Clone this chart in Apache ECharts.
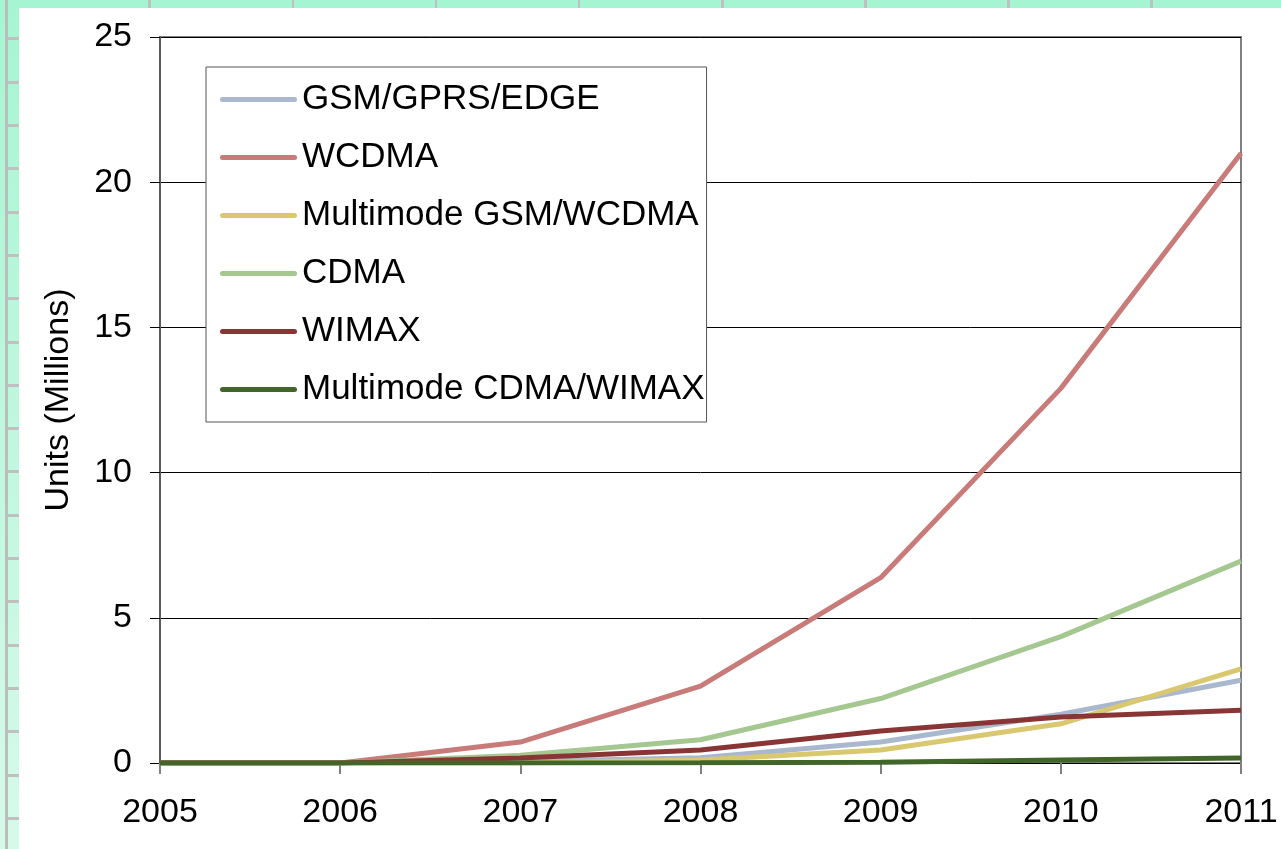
<!DOCTYPE html>
<html>
<head>
<meta charset="utf-8">
<script src="https://cdn.jsdelivr.net/npm/echarts@6/dist/echarts.min.js"></script>
<style>
  html, body { margin: 0; padding: 0; }
  body { width: 1281px; height: 849px; position: relative; overflow: hidden; background: #fff; }
  .strip-left {
    position: absolute; left: 0; top: 0; width: 19px; height: 849px;
    background: linear-gradient(to right, transparent 5px, #bdbdbd 5px, #bdbdbd 8px, transparent 8px),
                linear-gradient(#a6f5d2, #d6faea);
  }
  .strip-ticks {
    position: absolute; left: 8px; top: 0; width: 11px; height: 849px;
    background: repeating-linear-gradient(to bottom, transparent 0, transparent 37.5px, #c0c0c0 37.5px, #c0c0c0 40.5px, transparent 40.5px, transparent 43.3px);
  }
  .strip-top {
    position: absolute; left: 8px; top: 0; width: 1273px; height: 8px;
    background: repeating-linear-gradient(to right, #a6f5d2 0, #a6f5d2 140.5px, #c0c0c0 140.5px, #c0c0c0 143.1px);
  }
  .sheet { position: absolute; left: 19px; top: 8px; right: 0; bottom: 0; background: #fff; }
  #chart { position: absolute; left: 0; top: 0; width: 1281px; height: 849px; }
</style>
</head>
<body>
<div class="strip-left"></div>
<div class="strip-ticks"></div>
<div class="strip-top"></div>
<div class="sheet"></div>
<div id="chart"></div>
<script>
// data (millions of units)
var years = ['2005', '2006', '2007', '2008', '2009', '2010', '2011'];
var seriesNames = ['GSM/GPRS/EDGE', 'WCDMA', 'Multimode GSM/WCDMA', 'CDMA', 'WIMAX', 'Multimode CDMA/WIMAX'];
var gsm = [0, 0, 0.05, 0.18, 0.72, 1.68, 2.85];
var wcdma = [0, 0, 0.72, 2.65, 6.38, 12.9, 21.0];
var multiGsmWcdma = [0, 0, 0, 0.1, 0.45, 1.35, 3.24];
var cdma = [0, 0, 0.27, 0.8, 2.22, 4.35, 6.95];
var wimax = [0, 0, 0.17, 0.45, 1.1, 1.58, 1.82];
var multiCdmaWimax = [0, 0, 0, 0.01, 0.03, 0.1, 0.17];
var yTicks = { min: 0, max: 25, step: 5 };

var colors = ['#a9b8cf', '#c87b78', '#d9c86f', '#a5c790', '#8a3535', '#426629'];
var values = [gsm, wcdma, multiGsmWcdma, cdma, wimax, multiCdmaWimax];
var font = "'Liberation Sans', Arial, sans-serif";

var myChart = echarts.init(document.getElementById('chart'));

var series = [];
for (var i = 0; i < seriesNames.length; i++) {
  series.push({
    name: seriesNames[i],
    type: 'line',
    symbol: 'none',
    smooth: false,
    color: colors[i],
    lineStyle: { color: colors[i], width: 5 },
    data: values[i]
  });
}

var option = {
  animation: false,
  textStyle: { fontFamily: font },
  grid: {
    left: 160,
    right: 40,
    top: 37,
    bottom: 86,
    show: true,
    borderColor: '#808080',
    borderWidth: 2,
    backgroundColor: 'transparent'
  },
  legend: {
    orient: 'vertical',
    left: 206,
    top: 67,
    padding: [15, 2, 15, 14],
    itemGap: 23,
    itemWidth: 77,
    itemHeight: 5,
    // pill shaped line sample, no marker dot
    icon: 'path://M2.5,0 H74.5 A2.5,2.5 0 0 1 74.5,5 H2.5 A2.5,2.5 0 0 1 2.5,0 Z',
    backgroundColor: '#fff',
    borderColor: '#555',
    borderWidth: 1,
    textStyle: { fontSize: 35, color: '#000', fontFamily: font },
    data: seriesNames
  },
  xAxis: {
    type: 'category',
    boundaryGap: false,
    data: years,
    axisLine: { lineStyle: { color: '#000', width: 1 } },
    axisTick: { length: 11, lineStyle: { color: '#808080', width: 2 } },
    axisLabel: { fontSize: 34, color: '#000', margin: 33, fontFamily: font }
  },
  yAxis: {
    type: 'value',
    min: yTicks.min,
    max: yTicks.max,
    interval: yTicks.step,
    name: 'Units (Millions)',
    nameLocation: 'middle',
    nameGap: 84,
    nameTextStyle: { fontSize: 34, color: '#000', fontFamily: font },
    axisLine: { show: true, lineStyle: { color: '#5a5a5a', width: 2 } },
    axisTick: { show: true, length: 10, lineStyle: { color: '#000', width: 1 } },
    axisLabel: { fontSize: 34, color: '#000', margin: 28, fontFamily: font },
    splitLine: { show: true, lineStyle: { color: '#000', width: 1 } }
  },
  series: series
};

myChart.setOption(option);
</script>
</body>
</html>
